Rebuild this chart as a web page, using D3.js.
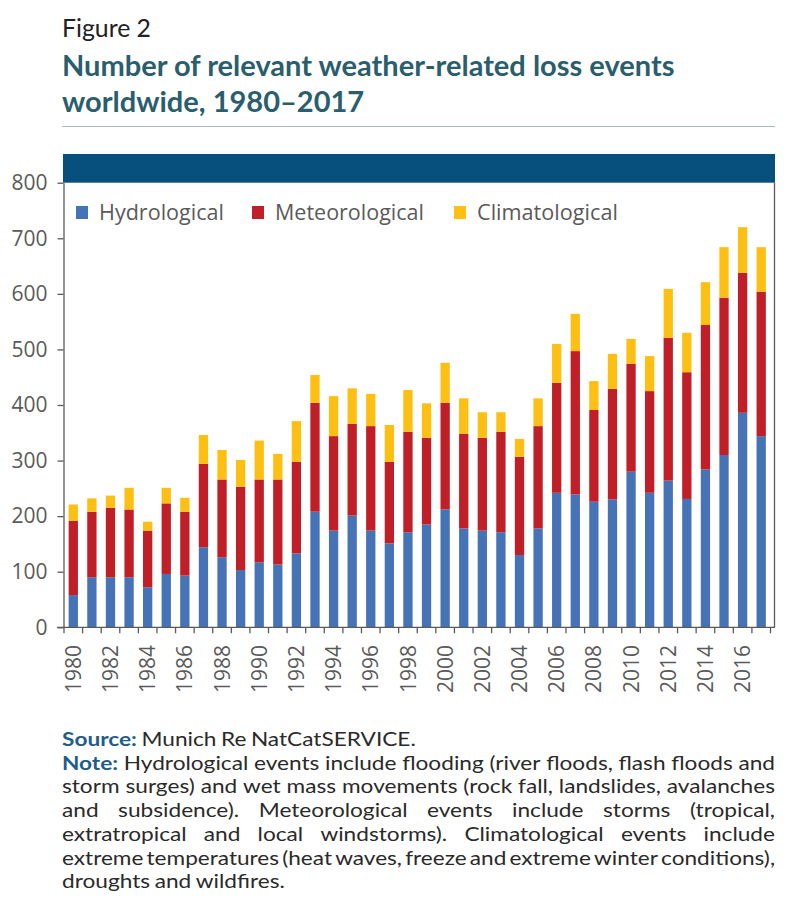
<!DOCTYPE html>
<html><head><meta charset="utf-8">
<script src="https://cdn.jsdelivr.net/npm/d3@7"></script>
<style>html,body{margin:0;padding:0;background:#fff;}svg{display:block;}</style>
</head><body>
<svg id="c" width="809" height="910"></svg>
<script>
const years = [1980,1981,1982,1983,1984,1985,1986,1987,1988,1989,1990,1991,1992,1993,1994,1995,1996,1997,1998,1999,2000,2001,2002,2003,2004,2005,2006,2007,2008,2009,2010,2011,2012,2013,2014,2015,2016,2017];
const hydrological = [58,90,90,90,72,96,93,144,126,103,117,113,133,208,174,201,174,151,171,185,212,178,174,171,130,178,242,239,226,230,280,242,264,231,284,310,386,344];
const meteorological = [134,118,125,122,102,127,115,150,140,150,149,153,165,196,170,165,188,147,181,156,192,170,167,181,177,184,198,258,165,199,194,183,257,228,260,283,252,260];
const climatological = [29,24,22,39,16,28,25,52,53,48,70,46,73,50,72,64,58,66,75,62,72,64,46,35,32,50,70,67,52,63,45,63,88,71,77,91,82,80];
const seriesNames = ["Hydrological","Meteorological","Climatological"];
const seriesColors = ["#4672b6","#c01f28","#fcbf12"];
const yTicks = [0,100,200,300,400,500,600,700,800];
const xLabelYears = [1980,1982,1984,1986,1988,1990,1992,1994,1996,1998,2000,2002,2004,2006,2008,2010,2012,2014,2016];

const svg = d3.select("#c");
const axisColor = "#5a5a5a";
const axisFont = "'Open Sans', sans-serif";
const textFont = "Lato, 'Noto Sans', sans-serif";

function fitText(sel, target){
  const w = sel.node().getComputedTextLength();
  const fs = parseFloat(sel.attr("font-size"));
  sel.attr("font-size", fs*target/w);
  return fs*target/w;
}
const fig = svg.append("text").attr("x",62).attr("y",37).attr("font-family",textFont)
  .attr("font-size",24).attr("fill","#222").text("Figure 2");
fitText(fig, 89);
const t1 = svg.append("text").attr("x",62).attr("y",76).attr("font-family",textFont)
  .attr("font-weight","bold").attr("font-size",27).attr("fill","#2b5e6d")
  .text("Number of relevant weather-related loss events");
const tfs = fitText(t1, 613);
svg.append("text").attr("x",62).attr("y",112).attr("font-family",textFont)
  .attr("font-weight","bold").attr("font-size",tfs).attr("fill","#2b5e6d")
  .text("worldwide, 1980\u20132017");
svg.append("line").attr("x1",62).attr("x2",775).attr("y1",126.5).attr("y2",126.5)
  .attr("stroke","#a9bac2").attr("stroke-width",1.2);

const x = d3.scaleBand().domain(years).range([64,770.5]).paddingInner(0.5).paddingOuter(0.25);
const y = d3.scaleLinear().domain([0,800]).range([627.3,182.7]);

svg.append("rect").attr("x",63).attr("y",154).attr("width",712).attr("height",y(800)-154)
  .attr("fill","#07507d");

const rows = years.map((yr,i)=>({year:yr, Hydrological:hydrological[i], Meteorological:meteorological[i], Climatological:climatological[i]}));
const stack = d3.stack().keys(seriesNames)(rows);
svg.append("g").selectAll("g").data(stack).join("g").attr("fill",(d,i)=>seriesColors[i])
  .selectAll("rect").data(d=>d).join("rect")
  .attr("x",d=>x(d.data.year)).attr("width",x.bandwidth())
  .attr("y",d=>y(d[1])).attr("height",d=>y(d[0])-y(d[1]));

const yAxis = d3.axisLeft(y).tickValues(yTicks).tickSize(6).tickSizeOuter(0).tickPadding(10);
const gy = svg.append("g").attr("transform","translate(63.5,0)").call(yAxis);
gy.select(".domain").attr("stroke",axisColor).attr("stroke-width",1.3);
gy.selectAll(".tick line").attr("stroke",axisColor).attr("stroke-width",1.3);
gy.selectAll(".tick text").attr("font-family",axisFont).attr("font-size",21).attr("fill",axisColor);

svg.append("line").attr("x1",774.5).attr("x2",774.5).attr("y1",y(800)).attr("y2",y(0))
  .attr("stroke",axisColor).attr("stroke-width",1.3);

const step = x.step();
svg.append("line").attr("x1",57).attr("x2",775).attr("y1",y(0)).attr("y2",y(0))
  .attr("stroke",axisColor).attr("stroke-width",1.3);
const gx = svg.append("g");
const boundaries = years.map(yr => x(yr) + x.bandwidth()/2 - step/2).concat([x(years[years.length-1]) + x.bandwidth()/2 + step/2]);
gx.selectAll("line.tk").data(boundaries).join("line").attr("class","tk")
  .attr("x1",d=>d).attr("x2",d=>d).attr("y1",y(0)).attr("y2",y(0)+6)
  .attr("stroke",axisColor).attr("stroke-width",1.3);
gx.selectAll("text").data(xLabelYears).join("text")
  .attr("transform",d=>`translate(${x(d)+x.bandwidth()/2},645) rotate(-90)`)
  .attr("text-anchor","end").attr("dy","0.36em")
  .attr("font-family",axisFont).attr("font-size",21).attr("fill",axisColor)
  .text(d=>d);

const legX = [76,252,454];
const legTextW = [125,149,141];
seriesNames.forEach((n,i)=>{
  svg.append("rect").attr("x",legX[i]).attr("y",206).attr("width",12).attr("height",13).attr("fill",seriesColors[i]);
  const t = svg.append("text").attr("x",legX[i]+23).attr("y",220).attr("font-family",axisFont)
    .attr("font-size",21).attr("fill",axisColor).text(n);
  fitText(t, legTextW[i]);
});

// Notes
const left = 62, right = 775;
const lineH = 23.7;
const baseY = 746;
const noteLines = [
  {t:"Note: Hydrological events include flooding (river floods, flash floods and", j:true},
  {t:"storm surges) and wet mass movements (rock fall, landslides, avalanches", j:true},
  {t:"and subsidence). Meteorological events include storms (tropical,", j:true},
  {t:"extratropical and local windstorms). Climatological events include", j:true},
  {t:"extreme temperatures (heat waves, freeze and extreme winter conditions),", j:true},
  {t:"droughts and wildfires.", j:false}
];
const noteFs = 19.4;
const probe = svg.append("text").attr("font-family",textFont).attr("font-size",noteFs).text(noteLines[0].t);
const sx = (right-left)/probe.node().getComputedTextLength();
probe.remove();

function drawLine(words, yy, justify, styles){
  const g = svg.append("g").attr("transform",`translate(0,${yy}) scale(${sx},1)`);
  const widths = words.map((w,k)=>{
    const tt = g.append("text").attr("font-family",textFont).attr("font-size",noteFs)
      .attr("font-weight",styles[k]?"bold":null).text(w);
    const wd = tt.node().getComputedTextLength()*sx; tt.remove(); return wd;
  });
  const sum = d3.sum(widths);
  const sp = noteFs*0.2*sx;
  let gap = sp, scale = 1;
  if (justify) {
    gap = (right-left-sum)/(words.length-1);
    if (gap < sp*0.7) { gap = sp*0.7; scale = (right-left-gap*(words.length-1))/sum; }
  }
  let cx = left;
  words.forEach((w,k)=>{
    g.append("text").attr("x",cx/sx).attr("y",0).attr("font-family",textFont)
      .attr("font-size",noteFs*scale).attr("font-weight",styles[k]?"bold":null)
      .attr("fill",styles[k]?"#1f5d8c":"#2a2a2a").text(w);
    cx += widths[k]*scale + gap;
  });
}
drawLine(["Source:","Munich","Re","NatCatSERVICE."], baseY, false, [true,false,false,false]);
noteLines.forEach((ln,i)=>{
  const words = ln.t.split(" ");
  drawLine(words, baseY + lineH*(i+1), ln.j, words.map((w,k)=>i===0&&k===0));
});
</script>
</body></html>
